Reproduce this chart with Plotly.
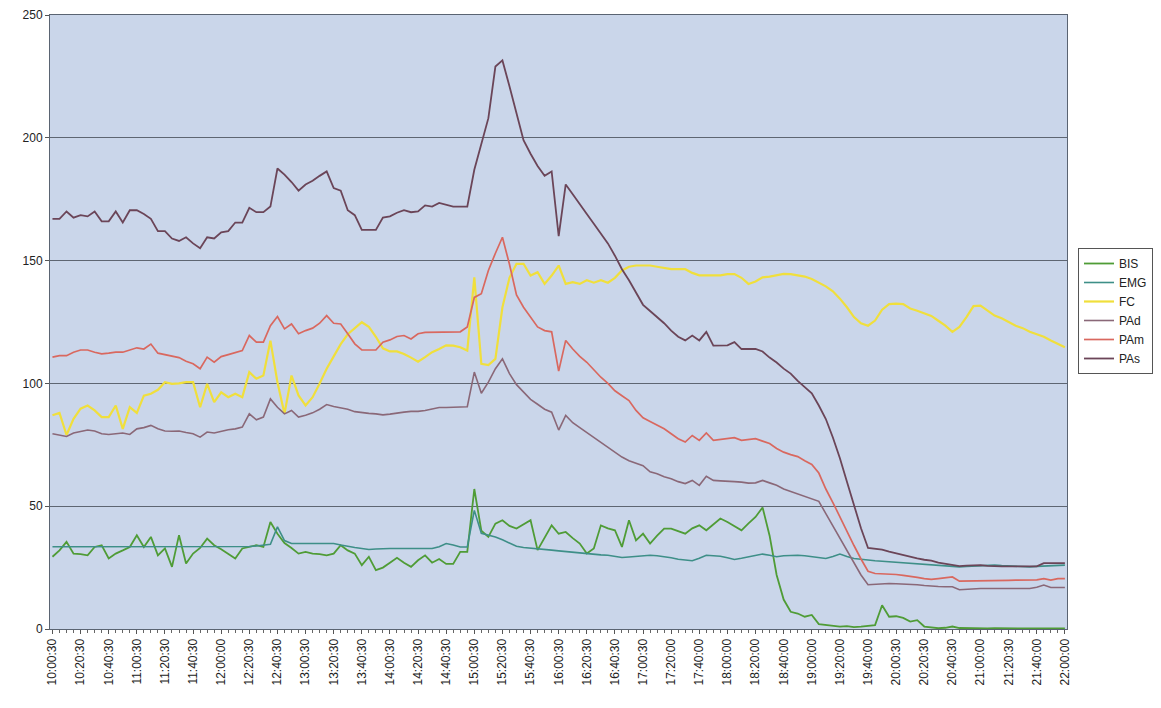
import plotly.graph_objects as go

TICK_LABELS = [
    "10:00:30", "10:20:30", "10:40:30", "11:00:30", "11:20:30", "11:40:30",
    "12:00:00", "12:20:30", "12:40:30", "13:00:30", "13:20:30", "13:40:30",
    "14:00:30", "14:20:30", "14:40:30", "15:00:30", "15:20:30", "15:40:30",
    "16:00:30", "16:20:30", "16:40:30", "17:00:30", "17:20:00", "17:40:00",
    "18:00:00", "18:20:00", "18:40:00", "19:00:00", "19:20:00", "19:40:00",
    "20:00:30", "20:20:30", "20:40:30", "21:00:00", "21:20:30", "21:40:00",
    "22:00:00",
]
SAMPLES_PER_LABEL = 4

BIS = [29.4, 32, 35.5, 30.7, 30.5, 30, 33.4, 34.1, 28.7, 30.7, 32, 33.4, 38.2, 33.4, 37.5, 30, 32.8, 25.3, 38.2, 26.7,
       30.7, 33, 36.8, 34.1, 32.5, 30.7, 28.7, 32.8, 33.5, 34.1, 33.4, 43.6, 38.8, 35, 33, 30.7, 31.4, 30.7, 30.5, 30,
       30.7, 34.1, 32, 30.7, 26, 29.4, 24, 25, 27, 29, 27, 25.3, 28, 30, 27, 28.5, 26.5, 26.5, 31.4, 31.4,
       57, 40, 37.5, 42.9, 44.3, 42, 40.9, 42.5, 44.3, 32.1, 37, 42.2, 38.8, 39.5, 37, 34.8, 30.7, 32.8, 42.2, 41,
       40.2, 33.4, 44.3, 36.1, 38.8, 34.8, 38, 40.9, 40.9, 40, 38.8, 41, 42.2, 40.2, 42.5, 45, 43.6, 42, 40.2, 43,
       45.6, 49.5, 38, 22, 12, 7, 6.3, 5, 5.7, 2, 1.6, 1.2, 1, 1.2, 0.8, 1, 1.2, 1.6, 9.7, 5,
       5.2, 4.5, 3, 3.6, 1, 0.5, 0.3, 0.5, 1, 0.4, 0.3, 0.3, 0.2, 0.2, 0.3, 0.2, 0.2, 0.2, 0.2, 0.2,
       0.2, 0.2, 0.2, 0.2, 0.2]

EMG = [33.5, 33.5, 33.4, 33.4, 33.5, 33.6, 33.5, 33.4, 33.4, 33.5, 33.6, 33.6, 33.5, 33.5, 33.5, 33.5, 33.4, 33.4, 33.4, 33.5,
       33.5, 33.5, 33.5, 33.5, 33.6, 33.6, 33.5, 33.5, 33.6, 33.8, 34, 34.5, 41.6, 36, 34.8, 34.8, 34.8, 34.8, 34.8, 34.8,
       34.8, 34.2, 33.6, 33.2, 32.8, 32.4, 32.6, 32.8, 32.8, 32.8, 32.8, 32.8, 32.8, 32.8, 32.8, 33.5, 34.8, 34.2, 33.4, 33.4,
       48.3, 39, 38.3, 37.5, 36.3, 35, 33.7, 33.2, 33, 32.7, 32.4, 32.1, 31.8, 31.5, 31.3, 31, 30.7, 30.5, 30.2, 30,
       29.5, 29.1, 29.3, 29.6, 29.8, 30, 29.8, 29.5, 29, 28.4, 28, 27.8, 28.8, 30, 29.8, 29.6, 29, 28.3, 28.8, 29.4,
       30, 30.5, 30, 29.4, 29.8, 30, 30, 29.8, 29.4, 29, 28.7, 29.5, 30.5, 29.5, 28.7, 28.4, 28, 27.8, 27.6, 27.4,
       27.3, 27.1, 27, 26.8, 26.6, 26.3, 26, 25.8, 25.6, 25.3, 25.5, 25.7, 25.8, 26, 26, 25.8, 25.6, 25.4, 25.3, 25.3,
       25.5, 25.7, 25.8, 26, 26]

FC = [87, 88, 79, 85.6, 89.7, 91, 89, 86.3, 86.3, 91, 81.5, 90.3, 88, 95, 95.8, 97.4, 100.5, 99.8, 100, 100.5,
      100.5, 90.3, 99.8, 92.4, 96.4, 94.4, 95.8, 94.4, 104.6, 101.9, 103.2, 117.4, 100.5, 87.6, 103.2, 95.1, 91, 94.4, 100, 106,
      111, 116, 120, 122.5, 124.9, 123, 119, 114.3, 113, 113, 112, 110.5, 108.8, 110.7, 112.7, 114, 115.5, 115.4, 114.7, 113.4,
      143.2, 108, 107.5, 110, 131, 143, 148.7, 148.7, 143.9, 145.3, 140.5, 143.9, 148, 140.5, 141.2, 140.5, 142, 141, 142, 141,
      143, 146, 147.5, 148, 148, 148, 147.5, 147, 146.5, 146.5, 146.5, 145, 144, 144, 144, 144, 144.5, 144.5, 143, 140.5,
      141.5, 143.2, 143.5, 144, 144.6, 144.5, 144, 143.5, 142.5, 141, 139.5, 137.5, 134.5, 131, 127, 124.5, 123.5, 125.6, 130, 132.3,
      132.5, 132.3, 130.5, 129.6, 128.5, 127.5, 125.5, 123.5, 121, 123, 127, 131.5, 131.7, 129.5, 127.6, 126.5, 125, 123.5, 122.5, 121,
      120, 119, 117.5, 116, 114.7]

PAd = [79.5, 79, 78.4, 79.8, 80.5, 81, 80.6, 79.5, 79.2, 79.5, 79.8, 79.2, 81.5, 82, 82.9, 81.5, 80.6, 80.5, 80.6, 80,
       79.5, 78.1, 80.2, 79.8, 80.5, 81.1, 81.5, 82.2, 87.6, 85.2, 86.3, 93.7, 90.3, 87.6, 89, 86.3, 87, 88, 89.5, 91.4,
       90.6, 90, 89.5, 88.5, 88, 87.8, 87.6, 87.2, 87.5, 88, 88.3, 88.6, 88.6, 89, 89.5, 90.2, 90.2, 90.2, 90.2, 90.5,
       104.6, 96, 100.5, 106, 110, 104, 99.5, 96.5, 93.5, 91.5, 89.5, 88.3, 81, 87, 84, 82, 80, 78, 76, 74,
       72, 70, 68.5, 67.5, 66.5, 64, 63.2, 62, 61.2, 60, 59.2, 60.5, 58.5, 62.2, 60.5, 60.3, 60, 60, 59.8, 59.4,
       59.5, 60.5, 59.5, 58.5, 57, 56, 55.3, 54.2, 53.2, 52, 47, 42, 37.5, 32.5, 27, 22, 18, 18.2, 18.5, 18.5,
       18.4, 18.3, 18.3, 18, 17.7, 17.4, 17.3, 17.2, 17.2, 16, 16.2, 16.5, 16.5, 16.5, 16.5, 16.5, 16.5, 16.5, 16.5, 16.5,
       17, 17.9, 16.9, 16.9, 16.9]

PAm = [110.7, 111.3, 111.3, 112.7, 113.6, 113.6, 112.7, 112, 112.3, 112.7, 112.7, 113.5, 114.5, 114, 116, 112.3, 111.7, 111.3, 110.5, 109,
       108, 106, 110.7, 108.6, 110.9, 111.7, 112.7, 113.4, 119.5, 116.8, 116.8, 123.5, 127.2, 122.2, 124.2, 120.2, 121.5, 122.5, 124.5, 127.6,
       124.5, 124.2, 120.2, 116.1, 113.6, 113.6, 113.6, 116.8, 117.7, 119.1, 119.5, 118.1, 120.2, 120.8, 120.8, 121, 121, 121, 121, 123,
       135, 136.5, 146, 153, 159.5, 148.5, 136, 131, 127, 123, 121.5, 121, 105, 117.5, 114, 111, 108.6, 105.5, 102.5, 100,
       97, 95, 93, 89, 86, 84.5, 83, 81.5, 79.5, 77.5, 76.1, 78.8, 76.8, 79.8, 76.8, 77.1, 77.5, 77.9, 76.8, 77,
       77.5, 76.5, 75.5, 73.5, 72, 71, 70.2, 68.5, 67, 63.5, 57, 51.5, 45.5, 39.5, 34, 28.5, 23.5, 22.6, 22.5, 22.3,
       22.2, 21.8, 21.5, 21, 20.5, 20.2, 20.5, 21, 21.2, 19.5, 19.5, 19.6, 19.6, 19.6, 19.6, 19.7, 19.8, 19.9, 19.9, 19.9,
       20, 20.5, 19.9, 20.5, 20.5]

PAs = [167, 167, 170, 167.5, 168.5, 168, 170, 166, 166, 170, 165.5, 170.5, 170.5, 169, 167, 162, 162, 159, 158, 159.5,
       157, 155, 159.5, 159, 161.5, 162, 165.5, 165.5, 171.5, 169.7, 169.7, 172, 187.5, 185, 182, 178.5, 181, 182.5, 184.5, 186.3,
       179.5, 178.5, 170.5, 168.5, 162.5, 162.5, 162.5, 167.5, 168, 169.5, 170.5, 169.7, 170, 172.5, 172, 173.5, 172.8, 172, 172, 172,
       187, 197, 208, 229, 231.5, 221, 209.6, 199, 193.5, 188.5, 184.5, 186.3, 160, 181, 177, 172.8, 169, 165, 161, 157,
       152, 146.5, 142, 137, 132, 129.5, 127, 124.5, 121.5, 119, 117.5, 119.5, 117.5, 121, 115.4, 115.4, 115.5, 116.8, 114, 114,
       114, 113, 110.5, 108.5, 106, 104, 101, 98.5, 96, 91, 85.5, 78, 69.5, 60, 50.5, 41, 33, 32.8, 32.3, 31.5,
       30.8, 30, 29.2, 28.8, 28.2, 27.8, 27, 26.5, 26, 25.6, 25.8, 26, 26, 25.7, 25.5, 25.5, 25.5, 25.5, 25.5, 25.5,
       25.5, 26.8, 26.8, 26.8, 26.8]

SERIES = [("BIS", BIS), ("EMG", EMG), ("FC", FC), ("PAd", PAd), ("PAm", PAm), ("PAs", PAs)]
COLORS = {"BIS": "#4f9c36", "EMG": "#3e8f88", "FC": "#f0df3c",
          "PAd": "#8a6878", "PAm": "#d9685f", "PAs": "#6b4558"}
WIDTHS = {"BIS": 1.8, "EMG": 1.6, "FC": 2.2, "PAd": 1.6, "PAm": 1.7, "PAs": 1.8}

n = len(BIS)
x_idx = list(range(n))

fig = go.Figure()
for name, vals in SERIES:
    fig.add_trace(go.Scatter(x=x_idx, y=vals, mode="lines", name=name,
                             line=dict(color=COLORS[name], width=WIDTHS[name])))

tickvals = list(range(0, n, SAMPLES_PER_LABEL))

# page body has an 8px default margin, figure is sized to fit the window
W, H = 1153, 700
fig.update_layout(
    width=W, height=H,
    margin=dict(l=42, r=94, t=7, b=79, autoexpand=False),
    paper_bgcolor="white",
    plot_bgcolor="#cad6ea",
    font=dict(family="Liberation Sans, Arial, sans-serif", size=12, color="#222222"),
    legend=dict(
        xref="container", yref="container",
        x=1070 / W, y=1 - 240 / H, xanchor="left", yanchor="top",
        bgcolor="white", bordercolor="#555555", borderwidth=1,
        font=dict(size=12, color="#222222"), itemwidth=30, tracegroupgap=0,
    ),
)
fig.update_xaxes(
    range=[-0.35, n - 1 + 0.3],
    tickmode="array", tickvals=tickvals, ticktext=TICK_LABELS,
    tickangle=-90, ticks="outside", ticklen=4, tickcolor="#555555",
    showgrid=False, zeroline=False,
    showline=True, linecolor="#5a6472", linewidth=1, mirror=True,
    minor=dict(tickmode="linear", tick0=0, dtick=1, ticks="outside", ticklen=3, tickcolor="#666666"),
    tickfont=dict(size=12),
)
fig.update_yaxes(
    range=[0, 250], dtick=50, tick0=0,
    showgrid=True, gridcolor="#5e6672", gridwidth=1,
    zeroline=False, ticks="outside", ticklen=4, tickcolor="#555555",
    showline=True, linecolor="#5a6472", linewidth=1, mirror=True,
    tickfont=dict(size=12),
)

fig.write_html("out.html")
